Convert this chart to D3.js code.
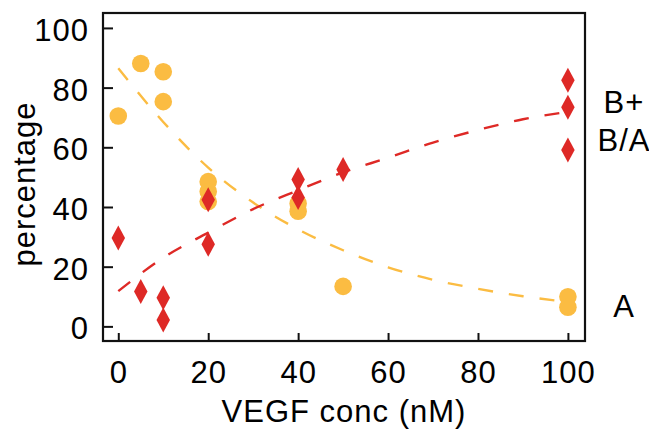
<!DOCTYPE html>
<html>
<head>
<meta charset="utf-8">
<script src="https://cdn.jsdelivr.net/npm/d3@7"></script>
<style>
  body { margin: 0; background: #fff; }
  text { font-family: "Liberation Sans", Arial, Helvetica, sans-serif; fill: #000; letter-spacing: 1px; }
</style>
</head>
<body>
<div id="chart"></div>
<script>
// ---- data ----
var aX = [0, 5, 10, 10, 20, 20, 20, 40, 40, 50, 100, 100];
var aY = [70.5, 88.1, 85.3, 75.3, 48.5, 45.2, 41.8, 41.2, 38.6, 13.4, 9.9, 6.4];

var bX = [0, 5, 10, 10, 20, 20, 40, 40, 50, 100, 100, 100];
var bY = [29.6, 11.7, 9.6, 2.1, 42.4, 27.5, 49.2, 43.2, 52.6, 82.5, 73.4, 59.1];

// dashed trend lines
var fitX = [0, 10, 20, 30, 40, 50, 60, 70, 80, 90, 100];
var aFit = [86.5, 68.5, 53.2, 41.5, 32.5, 25.5, 19.8, 15.6, 12.6, 10.1, 8.2];
var bFit = [11.8, 23.0, 31.4, 39.3, 45.6, 51.6, 56.5, 61.6, 65.8, 69.4, 71.9];

var xTicks = [0, 20, 40, 60, 80, 100];
var yTicks = [0, 20, 40, 60, 80, 100];

var sideLabels = [{text: "B+", v: 75.2}, {text: "B/A", v: 62.5}, {text: "A", v: 6.8}];

// ---- layout ----
var W = 649, H = 429;
var margin = {left: 103, right: 585, top: 13, bottom: 341};
var orange = "#fbbc42", red = "#de2926";

var x = d3.scaleLinear().domain([-3.4, 103.8]).range([margin.left, margin.right]);
var y = d3.scaleLinear().domain([-4.9, 105]).range([margin.bottom, margin.top]);

var svg = d3.select("#chart").append("svg")
    .attr("width", W)
    .attr("height", H);

// axes (ticks point inward)
var xAxis = d3.axisBottom(x).tickValues(xTicks).tickSize(-8).tickPadding(20);
var yAxis = d3.axisLeft(y).tickValues(yTicks).tickSize(-10).tickPadding(14);

var gx = svg.append("g")
    .attr("transform", "translate(0," + margin.bottom + ")")
    .call(xAxis);
var gy = svg.append("g")
    .attr("transform", "translate(" + margin.left + ",0)")
    .call(yAxis);

[gx, gy].forEach(function(g) {
  g.select(".domain").remove();
  g.selectAll(".tick line").attr("stroke", "#111").attr("stroke-width", 2);
  g.selectAll(".tick text")
    .attr("font-size", 31)
    .attr("fill", "#000")
    .style("font-family", "'Liberation Sans', Arial, sans-serif");
});
gy.selectAll(".tick text").attr("dy", "0.4em");

// frame
svg.append("rect")
    .attr("x", margin.left)
    .attr("y", margin.top)
    .attr("width", margin.right - margin.left)
    .attr("height", margin.bottom - margin.top)
    .attr("fill", "none")
    .attr("stroke", "#111")
    .attr("stroke-width", 2.2);

// trend lines
var line = d3.line().curve(d3.curveMonotoneX);

svg.append("path")
    .attr("d", line(fitX.map(function(d, i) { return [x(d), y(aFit[i])]; })))
    .attr("fill", "none")
    .attr("stroke", orange)
    .attr("stroke-width", 2.4)
    .attr("stroke-dasharray", "15,16");

svg.append("path")
    .attr("d", line(fitX.map(function(d, i) { return [x(d), y(bFit[i])]; })))
    .attr("fill", "none")
    .attr("stroke", red)
    .attr("stroke-width", 2.4)
    .attr("stroke-dasharray", "15,16");

// orange circles (A)
svg.append("g")
  .selectAll("circle")
  .data(aX)
  .enter()
    .append("circle")
    .attr("cx", function(d) { return x(d); })
    .attr("cy", function(d, i) { return y(aY[i]); })
    .attr("r", 8.8)
    .attr("fill", orange);

// tall thin diamond symbol
var tallDiamond = {
  draw: function(ctx, size) {
    var h = Math.sqrt(size), w = h * 0.54;
    ctx.moveTo(0, -h);
    ctx.lineTo(w, 0);
    ctx.lineTo(0, h);
    ctx.lineTo(-w, 0);
    ctx.closePath();
  }
};

svg.append("g")
  .selectAll("path")
  .data(bX)
  .enter()
    .append("path")
    .attr("d", d3.symbol().type(tallDiamond).size(156))
    .attr("transform", function(d, i) { return "translate(" + x(d) + "," + y(bY[i]) + ")"; })
    .attr("fill", red);

// axis titles
svg.append("text")
    .text("VEGF conc (nM)")
    .attr("x", (margin.left + margin.right) / 2)
    .attr("y", 421.5)
    .attr("text-anchor", "middle")
    .attr("font-size", 31);

svg.append("text")
    .text("percentage")
    .attr("transform", "translate(35," + 184 + ") rotate(-90)")
    .attr("text-anchor", "middle")
    .attr("font-size", 31);

// series labels on the right
svg.append("g")
  .selectAll("text")
  .data(sideLabels)
  .enter()
    .append("text")
    .text(function(d) { return d.text; })
    .attr("x", 624)
    .attr("y", function(d) { return y(d.v); })
    .attr("dy", "0.35em")
    .attr("text-anchor", "middle")
    .attr("font-size", 31);
</script>
</body>
</html>
